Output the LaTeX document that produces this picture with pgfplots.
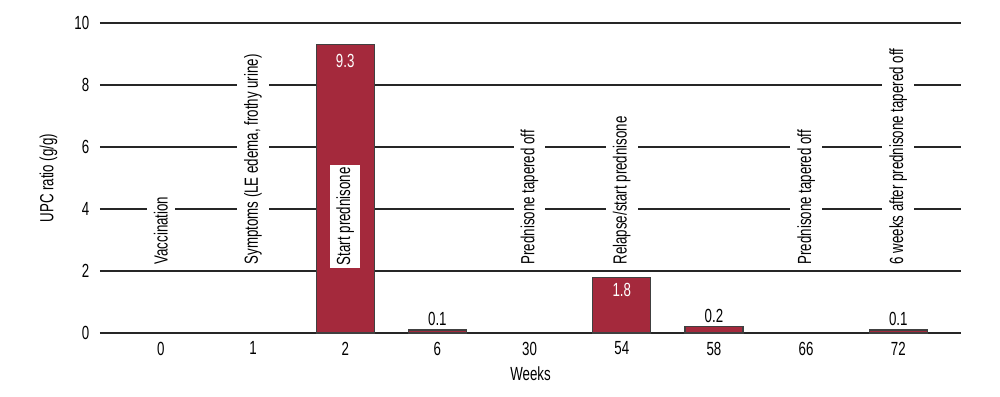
\documentclass[border=0pt]{standalone}
\usepackage{fontspec}
\setmainfont{Liberation Sans}[FakeStretch=0.7]
\usepackage{pgfplots}
\pgfplotsset{compat=1.18}
\definecolor{barred}{RGB}{164,41,60}
\newcommand{\fs}{\fontsize{9.5}{11}\selectfont}
\begin{document}
\fs
\begin{tikzpicture}
\begin{axis}[
  scale only axis,
  width=430.5pt, height=155pt,
  xmin=-0.66, xmax=8.68,
  ymin=0, ymax=10,
  ytick={0,2,4,6,8,10},
  xtick={0,1,2,3,4,5,6,7,8},
  xticklabels={0,1,2,6,30,54,58,66,72},
  axis line style={draw=none},
  major tick length=0pt,
  ymajorgrids,
  grid style={black!85, line width=0.6pt},
  /pgf/number format/assume math mode=true,
  tick label style={font=\fs},
  yticklabel style={xshift=-2pt},
  xticklabel style={yshift=-1pt},
  ylabel={UPC ratio (g/g)},
  xlabel={Weeks},
  label style={font=\fs},
  ylabel style={yshift=2pt},
  xlabel style={yshift=1pt},
  clip=false,
]
\addplot[ybar, bar width=0.63, fill=barred, draw=black!75, line width=0.6pt]
  coordinates {(2,9.3) (3,0.1) (5,1.8) (6,0.2) (8,0.1)};
% annotations
\tikzset{ann/.style={rotate=90, anchor=west, fill=white, inner xsep=0pt, inner ysep=3.5pt, font=\fs}}
\node[ann] at (axis cs:0,2.2) {Vaccination};
\node[ann] at (axis cs:1,2.2) {Symptoms (LE edema, frothy urine)};
\node[ann, inner xsep=1.2pt, inner ysep=3pt] at (axis cs:2,2.1) {Start prednisone};
\node[ann] at (axis cs:4,2.2) {Prednisone tapered off};
\node[ann] at (axis cs:5,2.2) {Relapse/start prednisone};
\node[ann] at (axis cs:7,2.2) {Prednisone tapered off};
\node[ann] at (axis cs:8,2.2) {6 weeks after prednisone tapered off};
% value labels
\node[anchor=north, text=white, inner sep=2pt, yshift=-2.5pt] at (axis cs:2,9.3) {9.3};
\node[anchor=north, text=white, inner sep=2pt, yshift=-1pt] at (axis cs:5,1.8) {1.8};
\node[anchor=south, inner sep=2pt] at (axis cs:3,0.1) {0.1};
\node[anchor=south, inner sep=2pt] at (axis cs:6,0.2) {0.2};
\node[anchor=south, inner sep=2pt] at (axis cs:8,0.1) {0.1};
\end{axis}
\path (current axis.south west) ++(-50pt,-31.5pt) rectangle ++(500pt,198pt);
\end{tikzpicture}
\end{document}
